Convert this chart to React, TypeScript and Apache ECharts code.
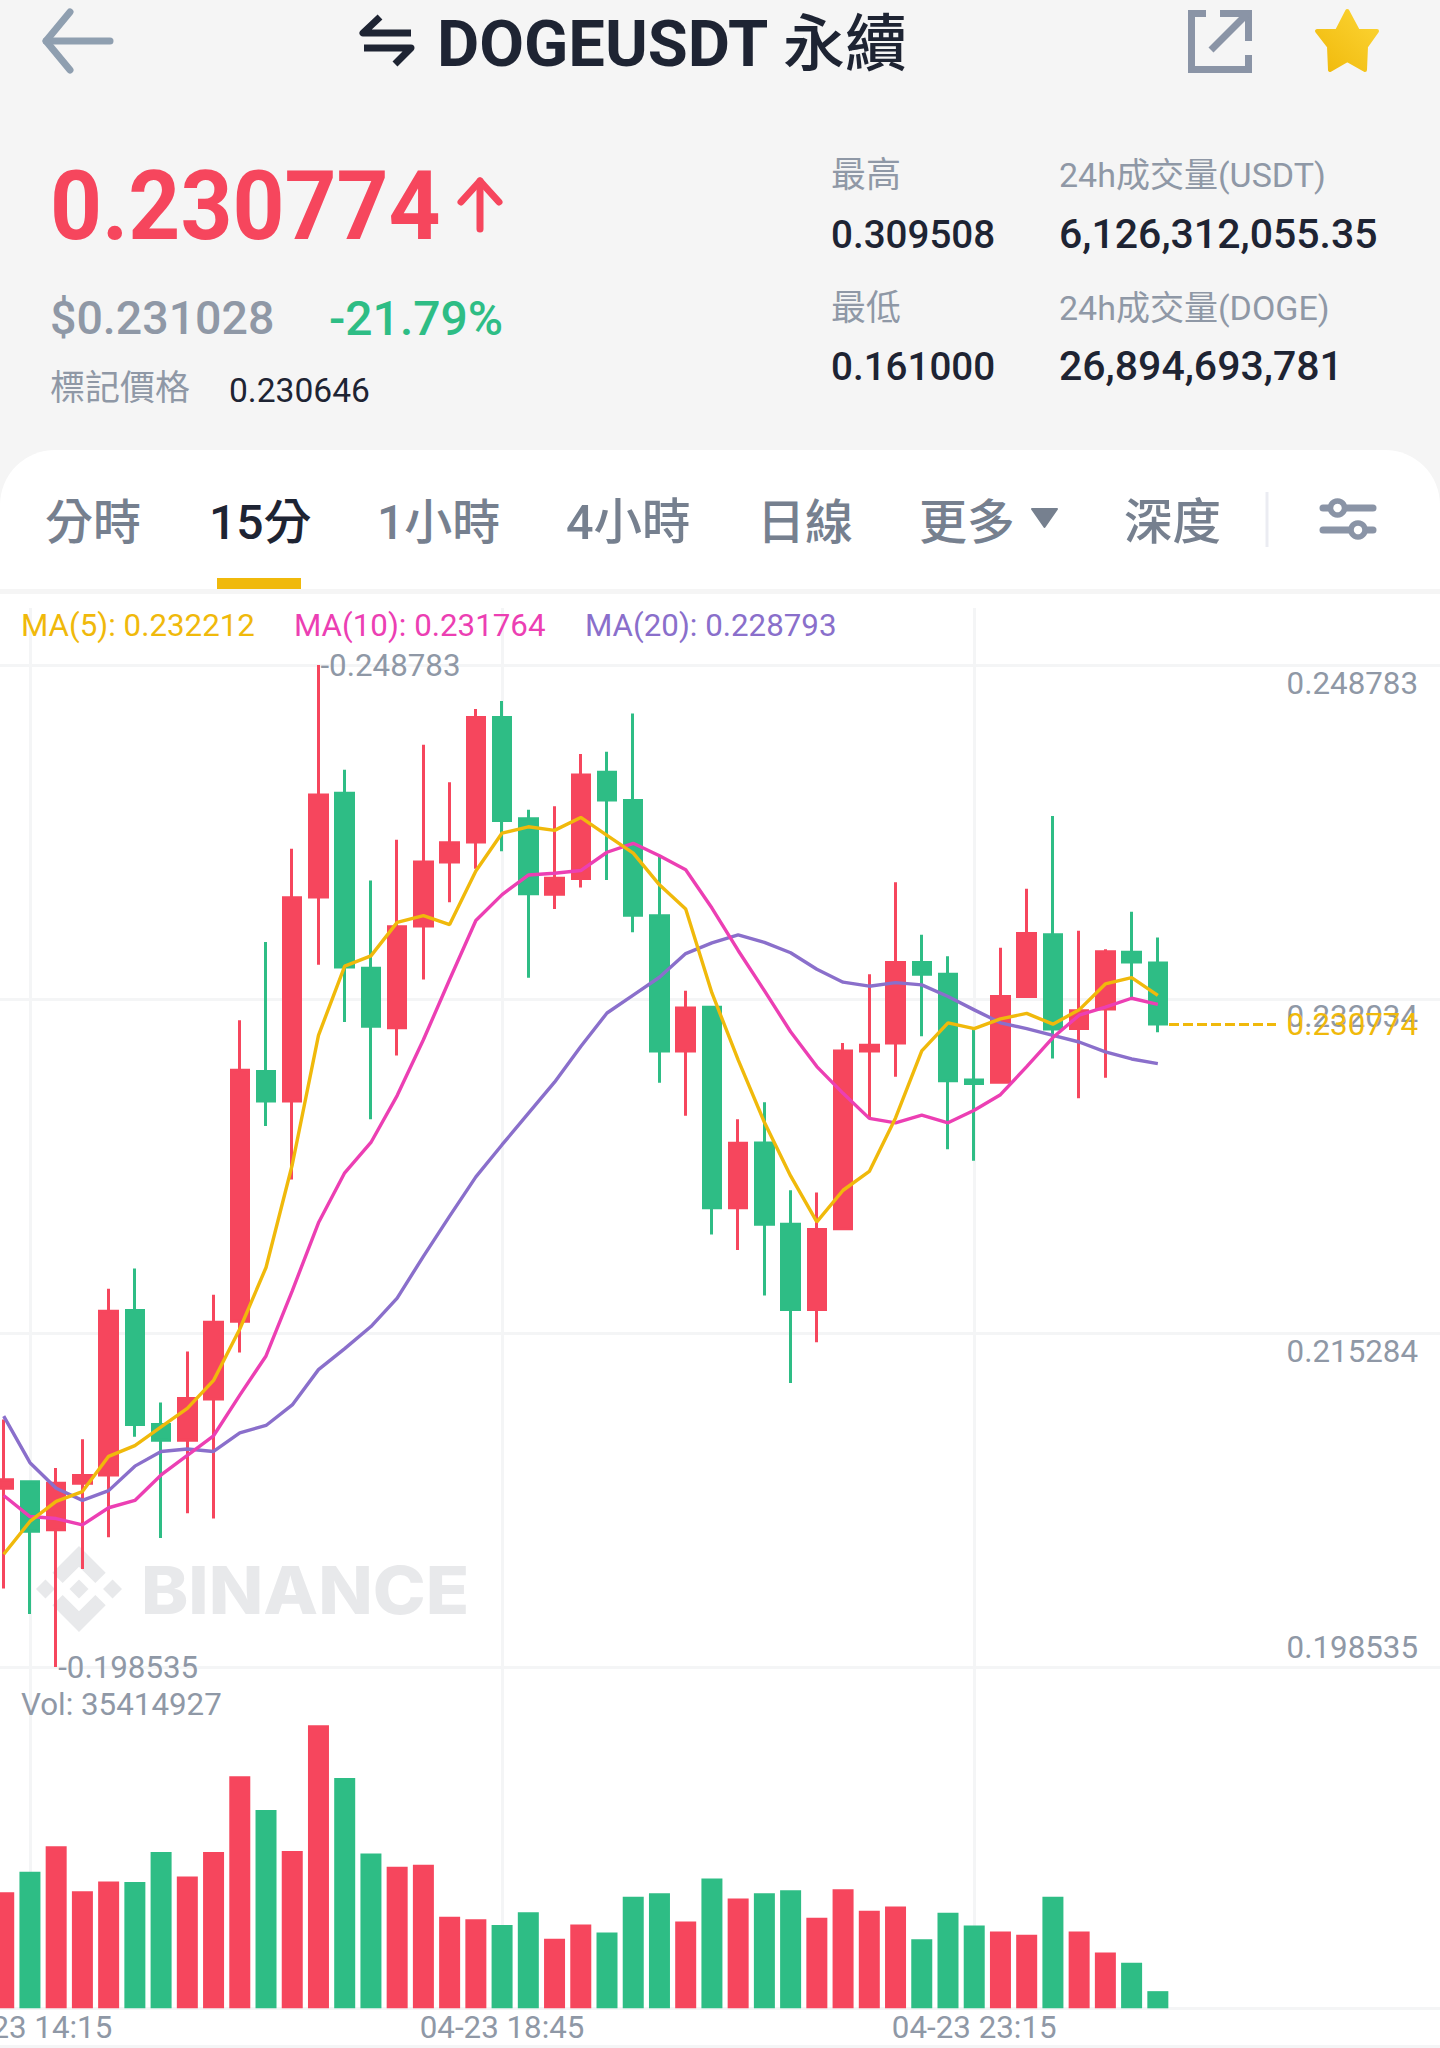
import React, { useEffect, useRef } from "react";
import * as echarts from "echarts";

const times = [
  "04-23 14:00","04-23 14:15","04-23 14:30","04-23 14:45","04-23 15:00","04-23 15:15","04-23 15:30","04-23 15:45","04-23 16:00",
  "04-23 16:15","04-23 16:30","04-23 16:45","04-23 17:00","04-23 17:15","04-23 17:30","04-23 17:45","04-23 18:00","04-23 18:15",
  "04-23 18:30","04-23 18:45","04-23 19:00","04-23 19:15","04-23 19:30","04-23 19:45","04-23 20:00","04-23 20:15","04-23 20:30",
  "04-23 20:45","04-23 21:00","04-23 21:15","04-23 21:30","04-23 21:45","04-23 22:00","04-23 22:15","04-23 22:30","04-23 22:45",
  "04-23 23:00","04-23 23:15","04-23 23:30","04-23 23:45","04-24 00:00","04-24 00:15","04-24 00:30","04-24 00:45","04-24 01:00",
];
const emptySlots = ["", "", "", "", "", "", "", "", "", "", ""];
const opens = [
  0.207503,0.207822,0.205415,0.207749,0.208166,0.216418,0.210696,0.20991,0.211973,0.215878,0.228399,0.226921,0.237154,0.242348,0.233571,
  0.230593,0.235698,0.2389,0.239908,0.246154,0.241072,0.237288,0.238072,0.2434,0.24199,0.236213,0.229429,0.231623,0.22157,0.224817,
  0.220742,0.216467,0.220518,0.229429,0.229832,0.233862,0.23328,0.227974,0.227862,0.232161,0.23525,0.230549,0.231534,0.234377,0.23384,
];
const closes = [
  0.207921,0.205342,0.207749,0.208142,0.216369,0.210696,0.20991,0.211997,0.215829,0.228466,0.226921,0.237109,0.242259,0.233638,0.230661,
  0.235654,0.2389,0.239863,0.246154,0.240982,0.23731,0.238094,0.243266,0.242012,0.236236,0.229429,0.231579,0.22157,0.224794,0.220742,
  0.216467,0.220473,0.229429,0.22972,0.233862,0.23328,0.227929,0.227795,0.232161,0.235318,0.230526,0.231444,0.2344,0.233885,0.230774,
];
const lows = [
  0.202468,0.201191,0.198535,0.203451,0.205047,0.210082,0.204998,0.20625,0.20598,0.214306,0.225668,0.222981,0.23375,0.230884,0.226003,
  0.229205,0.233011,0.236885,0.238564,0.239437,0.233101,0.236549,0.237624,0.238004,0.235385,0.227839,0.226183,0.220227,0.219443,0.217159,
  0.212783,0.214822,0.220518,0.226071,0.22813,0.230168,0.224503,0.223921,0.227817,0.232116,0.229048,0.227056,0.228086,0.232116,0.230369,
];
const highs = [
  0.210941,0.207822,0.20851,0.209959,0.217499,0.218525,0.211801,0.214355,0.217204,0.230974,0.234892,0.239572,0.248783,0.243535,0.237982,
  0.24002,0.244789,0.242908,0.24658,0.246983,0.24152,0.241699,0.244318,0.24443,0.246356,0.239169,0.232452,0.231668,0.226003,0.226854,
  0.222443,0.222331,0.229832,0.23328,0.237893,0.23525,0.234176,0.230549,0.234601,0.237557,0.241206,0.235452,0.234534,0.236415,0.235116,
];
const ma5 = [
  0.204187,0.205833,0.20684,0.207331,0.209099,0.20964,0.210573,0.211506,0.212906,0.215485,0.21857,0.22372,0.230213,0.233683,0.234198,
  0.235877,0.236213,0.235765,0.238452,0.240355,0.240669,0.24049,0.241139,0.240243,0.239348,0.237758,0.236549,0.23234,0.228981,0.225847,
  0.22316,0.220854,0.222443,0.223384,0.226071,0.229429,0.23084,0.230549,0.231041,0.23131,0.230772,0.231489,0.232788,0.233101,0.232212,
];
const ma10 = [
  0.207135,0.206079,0.20598,0.205661,0.206521,0.206889,0.208166,0.209149,0.210131,0.212169,0.214134,0.217401,0.220809,0.223317,0.224839,
  0.22719,0.229989,0.233011,0.235967,0.237266,0.238251,0.23834,0.238475,0.239393,0.23984,0.239214,0.238519,0.236594,0.234467,0.232452,
  0.230392,0.228645,0.227302,0.226048,0.225824,0.226205,0.225824,0.226451,0.227235,0.228645,0.230101,0.23122,0.231623,0.232071,0.231764,
];
const ma20 = [
  0.211113,0.20878,0.207503,0.206889,0.20738,0.208608,0.209345,0.209468,0.209345,0.210278,0.210647,0.211678,0.213447,0.214503,0.215608,
  0.217032,0.21913,0.221145,0.223115,0.224727,0.226294,0.227862,0.229653,0.231332,0.232228,0.233123,0.23431,0.234847,0.23525,0.23487,
  0.234355,0.233526,0.232877,0.232676,0.232855,0.232743,0.232161,0.231489,0.23084,0.230549,0.230213,0.229877,0.229384,0.229026,0.228793,
];
const volumes = [
  239800000,282300000,334900000,241800000,262100000,261100000,322800000,272200000,322800000,479600000,409800000,324800000,584900000,
  475600000,319700000,292400000,296500000,189200000,184200000,172000000,198300000,143700000,173000000,156800000,230700000,237800000,
  179100000,268100000,226700000,237800000,243900000,187200000,245900000,201400000,210500000,142700000,197300000,171000000,158900000,
  151800000,230700000,158900000,115400000,94100000,35414927,
];
const priceLevels = ["0.248783", "0.232034", "0.215284", "0.198535"];
const labelledTicks = [1, 19, 37];
const lastPrice = 0.230774;

const RED = "#F6465D", GREEN = "#2EBD85", YELLOW = "#F0B90B", PINK = "#EC3FB3", PURPLE = "#8A6FCB";
const GRAY = "#8F98A6", DARK = "#1E2433", TAB = "#76808F", LINE = "#F4F5F6", ICON = "#8A94A6";
const CN = `Roboto, "Noto Sans CJK TC"`;

const T = (x: number, y: number, text: string, font: string, fill: string, extra: any = {}) => ({
  type: "text", x, y, silent: true, z: 10, ...extra,
  style: { text, font, fill, textVerticalAlign: "middle", textAlign: "left" },
});
const PL = (points: number[][], stroke: string, lineWidth: number, extra: any = {}) => ({
  type: "polyline", silent: true, z: 10, shape: { points }, style: { stroke, lineWidth, fill: null, lineCap: "round", lineJoin: "round", ...extra },
});
const SQUARE = { lineCap: "butt", lineJoin: "miter" };

function buildGraphic() {
  const star = new echarts.graphic.LinearGradient(1, 0, 0, 1, [{ offset: 0, color: "#FCD535" }, { offset: 1, color: "#F0B90B" }]);
  return [
    { type: "rect", z: -5, silent: true, shape: { x: 0, y: 0, width: 1440, height: 2048 }, style: { fill: "#F5F5F5" } },
    { type: "rect", z: -4, silent: true, shape: { x: 0, y: 450, width: 1440, height: 1650, r: [55, 55, 0, 0] }, style: { fill: "#FFFFFF" } },
    { type: "rect", z: -3, silent: true, shape: { x: 0, y: 589, width: 1440, height: 5 }, style: { fill: "#F5F5F5" } },
    { type: "rect", z: -3, silent: true, shape: { x: 0, y: 2007, width: 1440, height: 3 }, style: { fill: LINE } },
    { type: "rect", z: -3, silent: true, shape: { x: 0, y: 2045, width: 1440, height: 3 }, style: { fill: LINE } },
    PL([[110, 41], [46, 41]], "#8F9FB0", 7),
    PL([[70, 12], [46, 41], [70, 70]], "#8F9FB0", 7),
    PL([[380, 17], [363, 33], [411, 33]], DARK, 7, { lineCap: "butt" }),
    PL([[364, 48], [411, 48], [395, 64]], DARK, 7, { lineCap: "butt" }),
    T(437, 44, "DOGEUSDT", `700 65px ${CN}`, DARK),
    T(783, 44, "永續", `500 62px ${CN}`, DARK),
    PL([[1206, 13.5], [1191.5, 13.5], [1191.5, 69.5], [1248.5, 69.5], [1248.5, 55]], ICON, 7, SQUARE),
    PL([[1220, 13.5], [1248.5, 13.5], [1248.5, 41]], ICON, 7, SQUARE),
    PL([[1211, 50], [1246, 15]], ICON, 7, SQUARE),
    {
      type: "polygon", silent: true, z: 10,
      shape: { points: [[1347.3, 11], [1358, 31], [1377, 31], [1366, 46.5], [1365, 70], [1347.3, 60], [1330, 70], [1329, 46.5], [1317, 31], [1337, 31]] },
      style: { fill: star, stroke: star, lineWidth: 4, lineJoin: "round" },
    },
    T(50, 206, "0.230774", `700 96px ${CN}`, RED, { scaleX: 0.945 }),
    PL([[480, 181], [480, 229]], RED, 7),
    PL([[461, 202], [480, 181], [499, 202]], RED, 7),
    T(50, 318, "$0.231028", `500 46.5px ${CN}`, GRAY),
    T(329, 318, "-21.79%", `500 48px ${CN}`, GREEN),
    T(50, 388, "標記價格", `400 35px ${CN}`, GRAY),
    T(229, 390, "0.230646", `400 33.6px ${CN}`, DARK),
    T(831, 175, "最高", `400 35px ${CN}`, GRAY),
    T(1059, 175, "24h成交量(USDT)", `400 34px ${CN}`, GRAY),
    T(831, 234, "0.309508", `500 38.6px ${CN}`, DARK),
    T(1059, 234, "6,126,312,055.35", `500 41px ${CN}`, DARK),
    T(831, 308, "最低", `400 35px ${CN}`, GRAY),
    T(1059, 308, "24h成交量(DOGE)", `400 34px ${CN}`, GRAY),
    T(831, 366, "0.161000", `500 38.6px ${CN}`, DARK),
    T(1059, 366, "26,894,693,781", `500 41px ${CN}`, DARK),
    T(45, 522, "分時", `500 48px ${CN}`, TAB),
    T(209, 522, "15分", `500 48px ${CN}`, DARK),
    T(377, 522, "1小時", `500 48px ${CN}`, TAB),
    T(566, 522, "4小時", `500 48.5px ${CN}`, TAB),
    T(757, 522, "日線", `500 48px ${CN}`, TAB),
    T(919, 522, "更多", `500 48px ${CN}`, TAB),
    { type: "polygon", silent: true, z: 10, shape: { points: [[1032, 509], [1057, 509], [1044.5, 527]] }, style: { fill: TAB, stroke: TAB, lineWidth: 2, lineJoin: "round" } },
    T(1124, 522, "深度", `500 48.5px ${CN}`, TAB),
    { type: "rect", silent: true, z: 10, shape: { x: 1265.5, y: 492, width: 3, height: 55 }, style: { fill: "#EBECF2" } },
    PL([[1323, 508], [1373, 508]], ICON, 7),
    PL([[1323, 530], [1373, 530]], ICON, 7),
    { type: "circle", silent: true, z: 11, shape: { cx: 1337.5, cy: 508, r: 7 }, style: { fill: "#fff", stroke: ICON, lineWidth: 5.5 } },
    { type: "circle", silent: true, z: 11, shape: { cx: 1358, cy: 530, r: 7 }, style: { fill: "#fff", stroke: ICON, lineWidth: 5.5 } },
    { type: "rect", silent: true, z: 10, shape: { x: 217, y: 578, width: 84, height: 11 }, style: { fill: YELLOW } },
    T(21, 625, `MA(5): ${ma5[44].toFixed(6)}`, `400 31.3px Roboto`, YELLOW),
    T(294, 625, `MA(10): ${ma10[44].toFixed(6)}`, `400 31.3px Roboto`, PINK),
    T(585, 625, `MA(20): ${ma20[44].toFixed(6)}`, `400 31.3px Roboto`, PURPLE),
    T(21, 1704, `Vol: ${volumes[44]}`, `400 31.3px Roboto`, GRAY),
    { type: "binanceMark", silent: true, z: 0, x: 36, y: 1546, scaleX: 0.86, scaleY: 0.86, style: { fill: "#E8E9EB" } },
    T(141, 1589.5, "BINANCE", `800 66px Inter`, "#E8E9EB", { z: 0, scaleX: 1.08 }),
  ];
}

export default function App() {
  const ref = useRef<HTMLDivElement>(null);
  useEffect(() => {
    echarts.graphic.registerShape(
      "binanceMark",
      echarts.graphic.extendPath(
        "M50 0L81 31L69 43L50 24L31 43L19 31ZM50 100L19 69L31 57L50 76L69 57L81 69ZM50 39L61 50L50 61L39 50ZM11 39L22 50L11 61L0 50ZM89 39L100 50L89 61L78 50Z",
        {}
      )
    );
    const chart = echarts.init(ref.current!, undefined, { renderer: "svg" });
    const cats = [...times, ...emptySlots];
    const candles = opens.map((o, i) => [o, closes[i], lows[i], highs[i]]);
    const bandLeft = -9.4, bandTotal = 26.23 * cats.length;
    const hideX = { show: false };
    const levelValues = priceLevels.map(Number);
    const labelStyle = { color: GRAY, fontFamily: "Roboto", fontSize: 31.3 };
    const xBase = {
      type: "category", data: cats, boundaryGap: true,
      axisLine: hideX, axisTick: hideX, axisLabel: hideX, splitLine: hideX,
    };
    const lineSeries = (name: string, data: number[], color: string) => ({
      name, type: "line", data, xAxisIndex: 0, yAxisIndex: 0, symbol: "none", z: 3,
      lineStyle: { color, width: 3.4 }, itemStyle: { color },
    });
    const gridBase = { outerBoundsMode: "none", containLabel: false };
    chart.setOption({
      animation: false,
      graphic: buildGraphic(),
      grid: [
        { ...gridBase, left: bandLeft, top: 665, width: bandTotal, height: 1002 },
        { ...gridBase, left: bandLeft, top: 1669.5, width: bandTotal, height: 338.8 },
        { ...gridBase, left: bandLeft, top: 608, width: bandTotal, height: 1400 },
        { ...gridBase, left: 0, top: 665, width: 1440, height: 1002 },
      ],
      xAxis: [
        { ...xBase, gridIndex: 0 },
        {
          ...xBase, gridIndex: 1,
          axisLabel: {
            show: true, ...labelStyle, margin: 0, verticalAlign: "top", lineHeight: 34, padding: [2, 0, 0, 0],
            interval: (i: number) => labelledTicks.includes(i), hideOverlap: false,
          },
        },
        {
          ...xBase, gridIndex: 2,
          splitLine: {
            show: true, alignWithLabel: true, interval: (i: number) => labelledTicks.includes(i),
            lineStyle: { color: LINE, width: 3 },
          },
        },
        { type: "value", gridIndex: 3, min: 0, max: 1440, show: false },
      ],
      yAxis: [
        { type: "value", gridIndex: 0, min: 0.198535, max: 0.248783, show: false },
        { type: "value", gridIndex: 1, min: 0, max: 700000000, show: false },
        { type: "value", gridIndex: 2, min: 0, max: 1, show: false },
        { type: "value", gridIndex: 3, min: 0.198535, max: 0.248783, show: false },
      ],
      series: [
        {
          name: "levels", type: "line", xAxisIndex: 3, yAxisIndex: 3, data: [], z: 1, symbol: "none",
          markLine: {
            silent: true, symbol: "none", z: 1, animation: false, precision: 6, label: { show: false },
            data: [
              ...levelValues.map((v) => ({ yAxis: v, lineStyle: { color: LINE, width: 3, type: "solid" } })),
              [
                { coord: [1169, lastPrice], lineStyle: { color: YELLOW, width: 3, type: [10, 4] } },
                { coord: [1276, lastPrice] },
              ],
            ],
          },
          markPoint: {
            silent: true, symbol: "circle", symbolSize: 0, animation: false,
            data: [
              ...priceLevels.map((t, i) => ({
                coord: [1418, levelValues[i]],
                label: { show: true, position: "left", distance: 0, formatter: t, ...labelStyle, offset: [0, i === 3 ? -20 : 18] },
              })),
              {
                coord: [1418, lastPrice],
                label: { show: true, position: "left", distance: 0, formatter: lastPrice.toFixed(6), ...labelStyle, color: YELLOW },
              },
            ],
          },
        },
        {
          name: "K", type: "candlestick", xAxisIndex: 0, yAxisIndex: 0, data: candles, barWidth: 18, z: 2,
          itemStyle: { color: RED, color0: GREEN, borderColor: RED, borderColor0: GREEN, borderWidth: 3 },
          markPoint: {
            silent: true, symbol: "circle", symbolSize: 0, animation: false,
            data: [
              { coord: [times[12], 0.248783], label: { show: true, position: "right", distance: 2, formatter: "-0.248783", ...labelStyle } },
              { coord: [times[2], 0.198535], label: { show: true, position: "right", distance: 2, formatter: "-0.198535", ...labelStyle } },
            ],
          },
        },
        lineSeries("MA20", ma20, PURPLE),
        lineSeries("MA10", ma10, PINK),
        lineSeries("MA5", ma5, YELLOW),
        {
          name: "Vol", type: "bar", xAxisIndex: 1, yAxisIndex: 1, barWidth: 21,
          data: volumes.map((v, i) => ({ value: v, itemStyle: { color: closes[i] >= opens[i] ? RED : GREEN } })),
        },
      ],
    });
    return () => chart.dispose();
  }, []);
  return <div ref={ref} style={{ position: "absolute", left: 0, top: 0, width: 1440, height: 2048, overflow: "hidden" }} />;
}
